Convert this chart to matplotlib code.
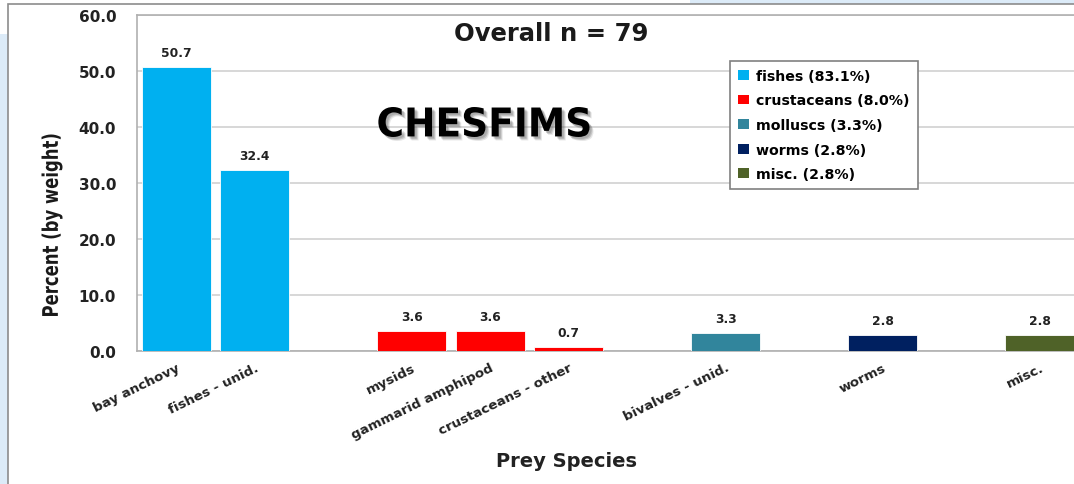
import numpy as np
import matplotlib
matplotlib.use("Agg")
import matplotlib.pyplot as plt
from matplotlib.patches import Rectangle, Patch, PathPatch
from matplotlib.textpath import TextPath
from matplotlib.font_manager import FontProperties
from matplotlib.transforms import Affine2D

# ---- data ----
# blank entries are empty slots between the prey groups
categories = ["bay anchovy", "fishes - unid.", "",
              "mysids", "gammarid amphipod", "crustaceans - other", "",
              "bivalves - unid.", "", "worms", "", "misc."]
values = [50.7, 32.4, np.nan, 3.6, 3.6, 0.7, np.nan, 3.3, np.nan, 2.8, np.nan, 2.8]
groups = ["fishes", "fishes", None, "crustaceans", "crustaceans", "crustaceans", None,
          "molluscs", None, "worms", None, "misc."]
group_names = ["fishes", "crustaceans", "molluscs", "worms", "misc."]
group_pct = [83.1, 8.0, 3.3, 2.8, 2.8]
group_colors = ["#00B0F0", "#FF0000", "#31859C", "#002060", "#4F6228"]
y_ticks = [0, 10, 20, 30, 40, 50, 60]
n_total = 79

W, H = 1074, 485
fig = plt.figure(figsize=(W / 100, H / 100), dpi=100)
fig.patch.set_facecolor("white")


def narrow_text(s, cx, cy, length, height, rot=0, color="black", shadow=False):
    # text squeezed to length x height pixels (no condensed font installed), then rotated
    tp = TextPath((0, 0), s, size=50, prop=FontProperties(family="DejaVu Sans", weight="bold"))
    v = tp.vertices
    x0, y0 = v.min(axis=0)
    x1, y1 = v.max(axis=0)
    base = (Affine2D().translate(-(x0 + x1) / 2, -(y0 + y1) / 2)
            .scale(length / (x1 - x0), height / (y1 - y0)).rotate_deg(rot))
    if shadow:
        for off, a in [(4, 0.15), (3, 0.25), (2, 0.25)]:
            p = PathPatch(tp, facecolor="#606060", edgecolor="none", alpha=a,
                          transform=base + Affine2D().translate(cx + off, H - cy - off))
            fig.add_artist(p)
    p = PathPatch(tp, facecolor=color, edgecolor="none",
                  transform=base + Affine2D().translate(cx, H - cy))
    fig.add_artist(p)


# slide background bits around the cropped chart
fig.patches.append(Rectangle((0, 0), 8 / W, 1 - 35 / H, transform=fig.transFigure,
                             facecolor="#DCEBF8", edgecolor="none", zorder=0))
fig.patches.append(Rectangle((690 / W, 1 - 5 / H), 1, 5 / H, transform=fig.transFigure,
                             facecolor="#DCEBF8", edgecolor="none", zorder=0))
fig.patches.append(Rectangle((8 / W, -0.01), 1.1, 1 - 5 / H + 0.01, transform=fig.transFigure,
                             facecolor="none", edgecolor="#8C8C8C", lw=1.2, zorder=1))

left, right, top, bottom = 137, 1079, 16, 352
ax = fig.add_axes([left / W, 1 - bottom / H, (right - left) / W, (bottom - top) / H])

x = np.arange(len(categories))
color_of = dict(zip(group_names, group_colors))
for xi, v, g in zip(x, values, groups):
    if g is None:
        continue
    ax.bar(xi, v, width=0.88, color=color_of[g], edgecolor="white", linewidth=0.6, zorder=3)
    ax.text(xi, v + 1.4, f"{v:.1f}", ha="center", va="bottom",
            fontsize=8.8, fontweight="bold", color="#222222", zorder=4)

ax.set_xlim(-0.5, len(categories) - 0.5)
ax.set_ylim(0, 60)
ax.set_yticks(y_ticks)
ax.set_yticklabels([f"{t:.1f}" for t in y_ticks], fontsize=11, fontweight="bold", color="#222222")
ax.yaxis.grid(True, color="#D4D4D4", lw=1.3, zorder=0)
ax.tick_params(axis="y", length=0, pad=15)
ax.set_xticks(x)
ax.set_xticklabels(categories, rotation=26, ha="right", rotation_mode="anchor",
                   fontsize=9.6, fontweight="bold", color="#222222")
ax.tick_params(axis="x", length=0, pad=7)
for s in ax.spines.values():
    s.set_color("#B0B0B0")
    s.set_linewidth(1.2)

fig.text(551 / W, 1 - 34 / H, f"Overall n = {n_total}", ha="center", va="center",
         fontsize=17.5, fontweight="bold", color="#1A1A1A")
narrow_text("CHESFIMS", 483, 123, 213, 30, shadow=True)
narrow_text("Percent (by weight)", 52, 227, 183, 21, rot=90, color="#1A1A1A")
fig.text(567 / W, 1 - 462 / H, "Prey Species", ha="center", va="center",
         fontsize=14, fontweight="bold", color="#222222")

handles = [Patch(facecolor=c, edgecolor="none") for c in group_colors]
labels = [f"{g} ({p:.1f}%)" for g, p in zip(group_names, group_pct)]
leg = fig.legend(handles, labels, loc="upper left", bbox_to_anchor=(730 / W, 1 - 62 / H),
                 bbox_transform=fig.transFigure, fancybox=False, framealpha=1,
                 edgecolor="#808080", prop={"weight": "bold", "size": 10.2},
                 handlelength=0.8, handleheight=0.7, handletextpad=0.5,
                 labelspacing=0.75, borderpad=0.55, borderaxespad=0)
leg.get_frame().set_linewidth(1.2)

fig.savefig("out.png", dpi=100)
